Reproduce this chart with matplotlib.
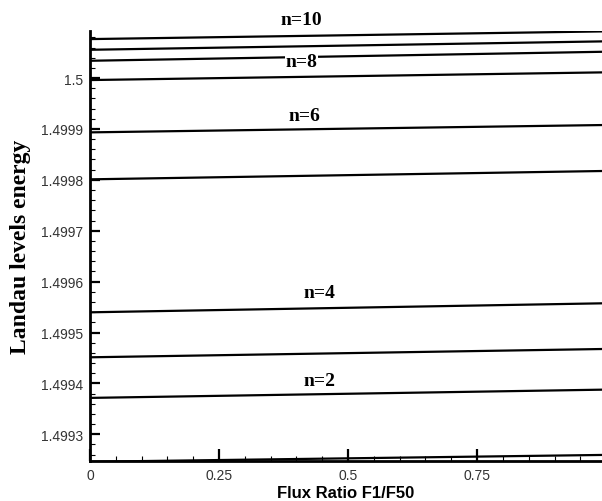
import matplotlib
matplotlib.use("Agg")
import matplotlib.pyplot as plt
from matplotlib.ticker import FixedLocator, FuncFormatter, MultipleLocator

# Landau-Niveaus n=1..10, Energie am Anfang und Ende der x-Achse
flux_ratio = [0.0, 1.0]
level_n = [1, 2, 3, 4, 5, 6, 7, 8, 9, 10]
energy_start = [1.4992460, 1.4993715, 1.4994513, 1.4995397, 1.4998010,
                1.4998933, 1.4999961, 1.5000340, 1.5000556, 1.5000766]
energy_end = [1.4992595, 1.4993878, 1.4994677, 1.4995575, 1.4998175,
              1.4999078, 1.5000113, 1.5000518, 1.5000722, 1.5000918]

# Beschriftungen der Kurven
label_names = ["n=10", "n=8", "n=6", "n=4", "n=2"]
label_x = [0.41, 0.41, 0.415, 0.445, 0.445]
label_y = [1.5001155, 1.5000335, 1.4999255, 1.4995795, 1.4994065]

y_ticks = [1.4993, 1.4994, 1.4995, 1.4996, 1.4997, 1.4998, 1.4999, 1.5]
x_ticks = [0, 0.25, 0.5, 0.75]

fig = plt.figure(figsize=(6.02, 5.02), dpi=100)
ax = fig.add_axes([90 / 602, 40 / 502, 512 / 602, 430 / 502])

for e0, e1 in zip(energy_start, energy_end):
    ax.plot(flux_ratio, [e0, e1], color="black", linewidth=1.6, solid_capstyle="butt")

for name, tx, ty in zip(label_names, label_x, label_y):
    bbox = None
    if name == "n=8":
        bbox = dict(facecolor="white", edgecolor="none", pad=0.5)
    ax.text(tx, ty, name, ha="center", va="center", fontsize=14, fontweight="bold",
            family="Liberation Serif", clip_on=False, bbox=bbox)

ax.set_xlim(0, 0.992)
ax.set_ylim(1.4992475, 1.5000925)

ax.spines["top"].set_visible(False)
ax.spines["right"].set_visible(False)
ax.spines["left"].set_linewidth(2)
ax.spines["bottom"].set_linewidth(2)

ax.yaxis.set_major_locator(FixedLocator(y_ticks))
ax.yaxis.set_minor_locator(MultipleLocator(0.00002))
ax.xaxis.set_major_locator(FixedLocator(x_ticks))
ax.xaxis.set_minor_locator(MultipleLocator(0.05))

ax.yaxis.set_major_formatter(FuncFormatter(lambda v, p: f"{v:.4f}".rstrip("0").rstrip(".")))
ax.xaxis.set_major_formatter(FuncFormatter(lambda v, p: f"{v:.2f}".rstrip("0").rstrip(".")))

ax.tick_params(which="major", direction="in", length=7, width=1.6,
               labelsize=10, labelcolor="#333333", pad=5)
ax.tick_params(axis="x", which="major", length=8.5)
ax.tick_params(which="minor", direction="in", length=3.5, width=0.8)
for lab in ax.get_xticklabels() + ax.get_yticklabels():
    lab.set_family("Liberation Sans")

ax.set_xlabel("Flux Ratio F1/F50", fontsize=12, fontweight="bold",
              family="Liberation Sans", labelpad=2)
ax.set_ylabel("Landau levels energy", fontsize=17, fontweight="bold",
              family="Liberation Serif", labelpad=7)

fig.savefig("out.png", dpi=100)
